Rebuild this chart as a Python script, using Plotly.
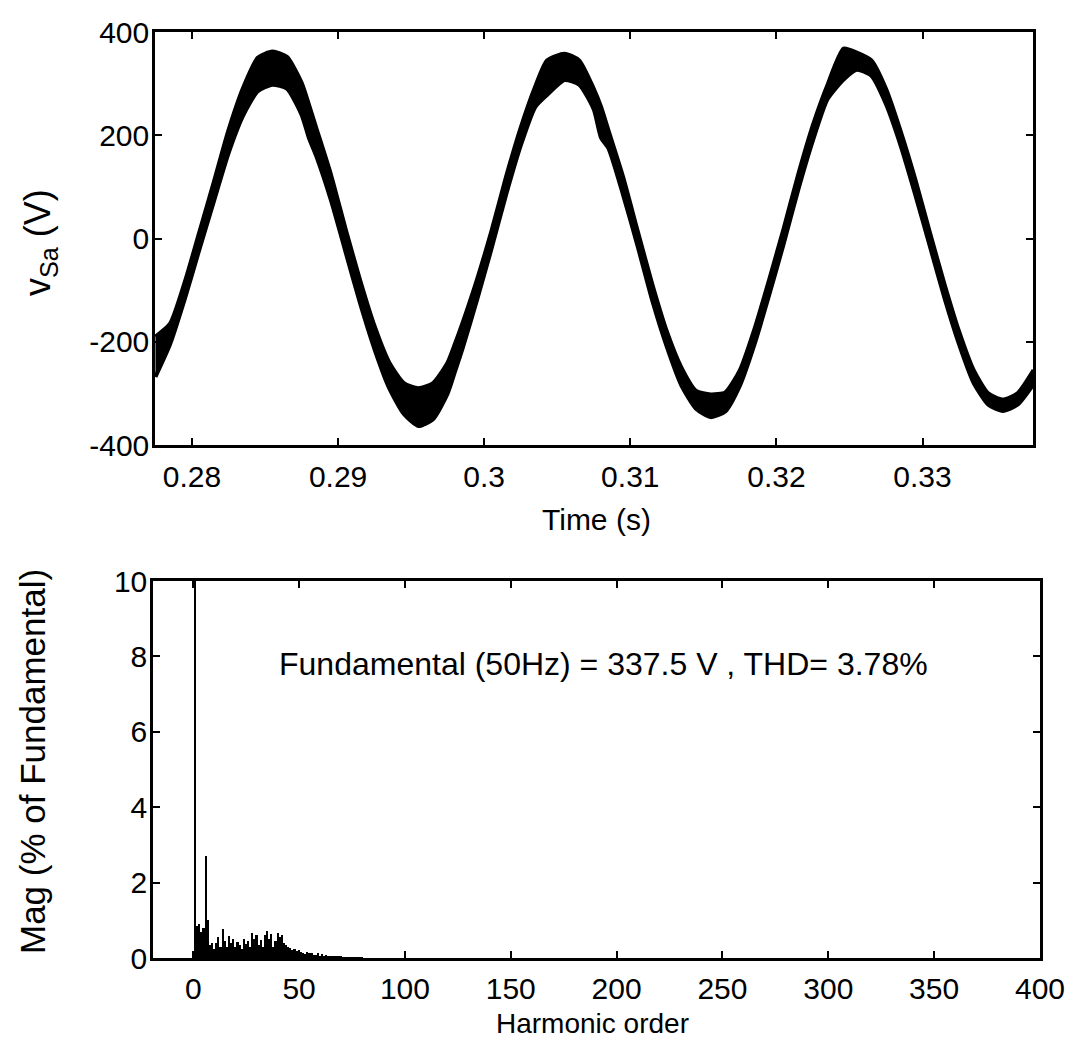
import plotly.graph_objects as go

# ---- Top panel: source voltage v_Sa (envelope of the noisy trace) ----
time_s = [0.2775, 0.2785, 0.2795, 0.2805, 0.2815, 0.2825, 0.2835, 0.2845, 0.2855, 0.2865,
          0.2875, 0.2880, 0.2885, 0.2895, 0.2905, 0.2915, 0.2925, 0.2935, 0.2945, 0.2955, 0.2965,
          0.2975, 0.2980, 0.2985, 0.2995, 0.3005, 0.3015, 0.3025, 0.3035, 0.3043, 0.3055, 0.3065,
          0.3075, 0.3080, 0.3085, 0.3095, 0.3105, 0.3115, 0.3125, 0.3135, 0.3145, 0.3155, 0.3165,
          0.3175, 0.3185, 0.3195, 0.3205, 0.3215, 0.3225, 0.3235, 0.3246, 0.3255, 0.3265,
          0.3275, 0.3285, 0.3295, 0.3305, 0.3315, 0.3325, 0.3335, 0.3345, 0.3355, 0.3365,
          0.3376]
v_low = [-268, -205, -118, -22, 72, 165, 238, 285, 298, 290,
         240, 195, 160, 75, -25, -125, -215, -290, -340, -363, -350,
         -300, -258, -215, -120, -20, 85, 180, 255, 278, 307, 298,
         250, 195, 175, 85, -15, -120, -210, -285, -330, -346, -335,
         -285, -205, -110, -10, 95, 190, 270, 308, 327, 315,
         260, 180, 85, -15, -115, -205, -280, -322, -334, -322,
         -282]
v_high = [-190, -165, -85, 12, 110, 210, 292, 350, 362, 352,
          302, 260, 215, 125, 20, -80, -170, -240, -280, -290, -280,
          -240, -204, -165, -80, 15, 120, 215, 295, 345, 358, 345,
          290, 255, 210, 120, 15, -88, -180, -250, -295, -302, -298,
          -255, -175, -80, 20, 125, 220, 298, 368, 360, 345,
          290, 208, 115, 12, -88, -180, -255, -300, -312, -300,
          -255]
time_ticks = [0.28, 0.29, 0.30, 0.31, 0.32, 0.33]
time_tick_labels = ["0.28", "0.29", "0.3", "0.31", "0.32", "0.33"]
volt_ticks = [-400, -200, 0, 200, 400]
volt_tick_labels = ["-400", "-200", "0", "200", "400"]

# ---- Bottom panel: harmonic spectrum (% of fundamental) ----
harmonic_order = list(range(0, 81))
harmonic_mag = [0.05, 100, 0.85, 0.9, 0.7, 0.8, 2.7, 1.0, 0.35, 0.4,
                0.25, 0.4, 0.55, 0.3, 0.77, 0.45, 0.3, 0.58, 0.4, 0.5,
                0.3, 0.43, 0.35, 0.25, 0.5, 0.38, 0.45, 0.28, 0.66, 0.5,
                0.6, 0.35, 0.48, 0.3, 0.6, 0.72, 0.5, 0.65, 0.3, 0.45,
                0.67, 0.55, 0.62, 0.4, 0.35, 0.3, 0.26, 0.22, 0.25, 0.18,
                0.21, 0.15, 0.12, 0.1, 0.17, 0.12, 0.14, 0.08, 0.07, 0.12,
                0.06, 0.1, 0.05, 0.08, 0.06, 0.04, 0.05, 0.03, 0.04, 0.03,
                0.03, 0.02, 0.02, 0.02, 0.02, 0.02, 0.02, 0.02, 0.02, 0.02,
                0.02]
harm_ticks = [0, 50, 100, 150, 200, 250, 300, 350, 400]
mag_ticks = [0, 2, 4, 6, 8, 10]

# page body has an 8px margin, so the figure is 16px smaller than the window
W, H = 1064, 1034
OFF = 8
FONT = "Liberation Sans, Arial, sans-serif"


def px(xp):
    return (xp - OFF) / W


def py(yp):
    return 1 - (yp - OFF) / H


fig = go.Figure()

fig.add_trace(go.Scatter(x=time_s, y=v_low, mode="lines",
                         line=dict(color="black", width=4, shape="spline", smoothing=0.6),
                         xaxis="x", yaxis="y", showlegend=False, hoverinfo="skip"))
fig.add_trace(go.Scatter(x=time_s, y=v_high, mode="lines", fill="tonexty",
                         fillcolor="black",
                         line=dict(color="black", width=4, shape="spline", smoothing=0.6),
                         xaxis="x", yaxis="y", showlegend=False, hoverinfo="skip"))

fig.add_trace(go.Bar(x=harmonic_order, y=harmonic_mag,
                     marker=dict(color="black", line=dict(width=0)),
                     width=0.8, xaxis="x2", yaxis="y2", showlegend=False, hoverinfo="skip"))

top_x = [px(155), px(1033)]
bot_x = [px(153), px(1040)]
top_dom = [py(445), py(32)]
bot_dom = [py(958), py(581)]


def axis_style(standoff):
    return dict(showline=True, linecolor="black", linewidth=2.5, mirror="ticks",
                ticks="inside", ticklen=7, tickwidth=2, tickcolor="black",
                showgrid=False, zeroline=False, automargin=False,
                ticklabelstandoff=standoff,
                tickfont=dict(family=FONT, size=30, color="black"))


fig.update_layout(
    width=W, height=H,
    margin=dict(l=0, r=0, t=0, b=0, autoexpand=False),
    paper_bgcolor="white", plot_bgcolor="white",
    font=dict(family=FONT, color="black"),
    bargap=0,
    xaxis=dict(domain=top_x, anchor="y", range=[0.27747, 0.33756],
               tickvals=time_ticks, ticktext=time_tick_labels, **axis_style(3)),
    yaxis=dict(domain=top_dom, anchor="x", range=[-400, 400],
               tickvals=volt_ticks, ticktext=volt_tick_labels, **axis_style(-3)),
    xaxis2=dict(domain=bot_x, anchor="y2", range=[-19, 400],
                tickvals=harm_ticks, **axis_style(2)),
    yaxis2=dict(domain=bot_dom, anchor="x2", range=[0, 10],
                tickvals=mag_ticks, **axis_style(-3)),
)

ann = [
    dict(text="Time (s)", x=px(596), y=py(520), font=dict(size=30)),
    dict(text="Harmonic order", x=px(592), y=py(1024), font=dict(size=28)),
    dict(text="v<sub>Sa</sub> (V)", x=px(40), y=py(243), textangle=-90, font=dict(size=36)),
    dict(text="Mag (% of Fundamental)", x=px(32), y=py(762), textangle=-90, font=dict(size=35)),
    dict(text="Fundamental (50Hz) = 337.5 V , THD= 3.78%", x=px(603), y=py(664),
         font=dict(size=32)),
]
for a in ann:
    a.update(xref="paper", yref="paper", showarrow=False, xanchor="center", yanchor="middle")
    a["font"].update(family=FONT, color="black")
    fig.add_annotation(**a)

fig.write_html("out.html")
